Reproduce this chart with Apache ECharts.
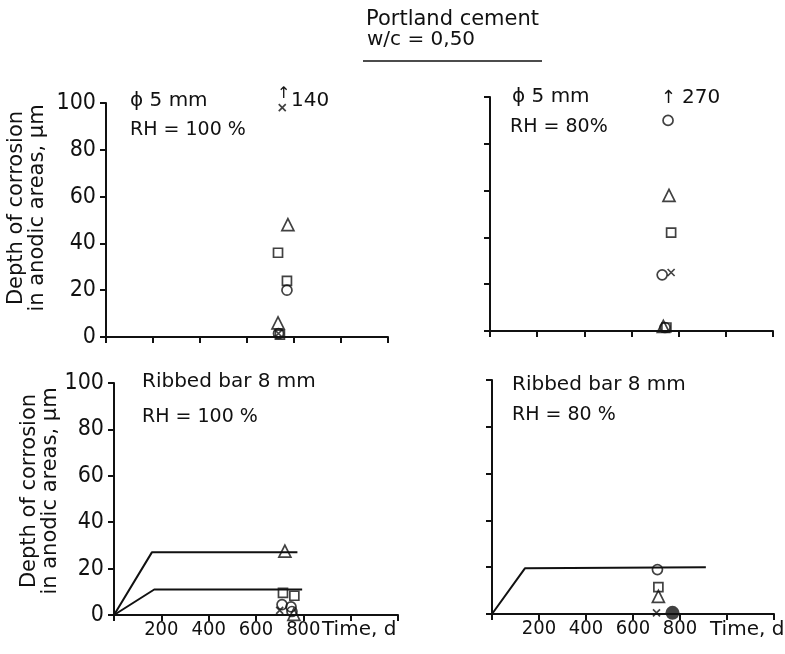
<!DOCTYPE html>
<html><head><meta charset="utf-8">
<script src="https://cdn.jsdelivr.net/npm/echarts@6/dist/echarts.min.js"></script>
<style>html,body{margin:0;padding:0;background:#fff}#c{width:785px;height:654px}</style>
</head><body><div id="c"></div>
<script>
// ---- data ----
const xTicks = [0, 200, 400, 600, 800, 1000, 1200];
const yTicks = [0, 20, 40, 60, 80, 100];
const yAxisTitle = 'Depth of corrosion\nin anodic areas, μm';
const xAxisTitle = 'Time, d';

// Top-left: φ5 mm, RH = 100 %
const tlCircles   = [[734, 1.5], [770, 20]];
const tlSquares   = [[732, 36], [770, 24], [740, 1]];
const tlTriangles = [[774, 48], [732, 6]];
const tlCrosses   = [[750, 98], [734, 1.5]];

// Top-right: φ5 mm, RH = 80 %
const trCircles   = [[755, 90], [730, 24], [742, 1.5]];
const trTriangles = [[759, 58], [735, 2]];
const trSquares   = [[768, 42], [748, 1.5]];
const trCrosses   = [[768, 25]];

// Bottom-left: ribbed bar 8 mm, RH = 100 %
const blLineUpper = [[0, 0], [160, 27], [775, 27]];
const blLineLower = [[0, 0], [170, 11], [795, 11]];
const blTriangles = [[722, 27.5], [760, 0.3]];
const blSquares   = [[714, 9.5], [762, 8.3]];
const blCircles   = [[710, 4.5], [748, 3.5], [752, 1.5]];
const blCrosses   = [[700, 2]];

// Bottom-right: ribbed bar 8 mm, RH = 80 %
const brLine      = [[0, 0], [140, 19.5], [910, 20]];
const brCircles   = [[704, 19]];
const brSquares   = [[708, 11.5]];
const brTriangles = [[708, 7.5]];
const brCrosses   = [[700, 0.5]];
const brFilled    = [[768, 0.5]];

// ---- chart ----
const INK = '#111';
const TXT = 'DejaVu Sans';
const NUM = '"Liberation Sans Narrow","DejaVu Sans Condensed","Liberation Sans",sans-serif';

const grids = [
  {left: 106, top: 103, width: 282, height: 234},
  {left: 490, top: 97,  width: 283, height: 234},
  {left: 114, top: 383, width: 284, height: 232},
  {left: 492, top: 380, width: 282, height: 234}
];

function xAxis(i, showLabels) {
  return {
    type: 'value', gridIndex: i, min: 0, max: 1200, interval: 200,
    axisLine: {lineStyle: {color: INK, width: 2}},
    axisTick: {show: true, length: 6, lineStyle: {color: INK, width: 2}},
    splitLine: {show: false},
    axisLabel: {
      show: showLabels, margin: 5, color: INK, fontSize: 20, fontFamily: NUM,
      formatter: v => (v > 0 && v < 1000) ? String(v) : ''
    }
  };
}
function yAxis(i, showLabels, gap, pad) {
  return {
    type: 'value', gridIndex: i, min: 0, max: 100, interval: 20,
    axisLine: {lineStyle: {color: INK, width: 2}},
    axisTick: {show: true, length: 6, lineStyle: {color: INK, width: 2}},
    splitLine: {show: false},
    axisLabel: {show: showLabels, margin: 10, color: INK, fontSize: 23, fontFamily: NUM},
    name: showLabels ? yAxisTitle : '',
    nameLocation: 'middle', nameRotate: 90, nameGap: gap,
    nameTextStyle: {color: INK, fontSize: 21, fontFamily: TXT, lineHeight: 21, padding: [0, 0, 0, pad]}
  };
}

const hollow = {color: 'rgba(0,0,0,0)', borderColor: INK, borderWidth: 1.7};
const crossPath = 'path://M0,0L10,10M10,0L0,10';
function sc(i, data, symbol, size) {
  return {type: 'scatter', xAxisIndex: i, yAxisIndex: i, data: data, symbol: symbol,
    symbolSize: size, itemStyle: hollow, silent: true, z: 3};
}
function cross(i, data) {
  return {type: 'scatter', xAxisIndex: i, yAxisIndex: i, data: data, symbol: crossPath,
    symbolSize: 7, itemStyle: {color: 'rgba(0,0,0,0)', borderColor: INK, borderWidth: 1.7}, silent: true, z: 3};
}
function line(i, data) {
  return {type: 'line', xAxisIndex: i, yAxisIndex: i, data: data, showSymbol: false, symbol: 'none',
    lineStyle: {color: INK, width: 2}, silent: true, z: 2};
}

const series = [
  sc(0, tlCircles, 'circle', 10), sc(0, tlSquares, 'rect', 9), sc(0, tlTriangles, 'triangle', 12), cross(0, tlCrosses),
  sc(1, trCircles, 'circle', 10), sc(1, trSquares, 'rect', 9), sc(1, trTriangles, 'triangle', 12), cross(1, trCrosses),
  line(2, blLineUpper), line(2, blLineLower),
  sc(2, blCircles, 'circle', 10), sc(2, blSquares, 'rect', 9), sc(2, blTriangles, 'triangle', 12), cross(2, blCrosses),
  line(3, brLine),
  sc(3, brCircles, 'circle', 10), sc(3, brSquares, 'rect', 9), sc(3, brTriangles, 'triangle', 12), cross(3, brCrosses),
  {type: 'scatter', xAxisIndex: 3, yAxisIndex: 3, data: brFilled, symbol: 'circle', symbolSize: 14,
    itemStyle: {color: INK}, silent: true, z: 3}
];

function txt(x, y, s, size, extra) {
  return Object.assign({type: 'text', x: x, y: y,
    style: {text: s, fill: INK, font: size + 'px "DejaVu Sans"', textVerticalAlign: 'middle'}}, extra || {});
}

const option = {
  animation: false,
  backgroundColor: '#fff',
  title: [
    {text: 'Portland cement', left: 361, top: 4,
      textStyle: {color: INK, fontSize: 21, fontWeight: 'normal', fontFamily: TXT}},
    {text: 'w/c = 0,50', left: 362, top: 25,
      textStyle: {color: INK, fontSize: 20, fontWeight: 'normal', fontFamily: TXT}}
  ],
  grid: grids,
  xAxis: [xAxis(0, false), xAxis(1, false), xAxis(2, true), xAxis(3, true)],
  yAxis: [yAxis(0, true, 58, 24), yAxis(1, false, 0, 0), yAxis(2, true, 50, 16), yAxis(3, false, 0, 0)],
  series: series,
  graphic: [
    {type: 'line', shape: {x1: 363, y1: 61, x2: 542, y2: 61}, style: {stroke: INK, lineWidth: 1.5}},
    txt(130, 101, 'ϕ 5 mm', 20),
    txt(130, 130, 'RH = 100 %', 19),
    txt(277, 94, '↑', 16),
    txt(291, 101, '140', 20),
    txt(512, 97, 'ϕ 5 mm', 20),
    txt(510, 127, 'RH = 80%', 19),
    txt(661, 98, '↑', 18),
    txt(682, 98, '270', 20),
    txt(142, 382, 'Ribbed bar 8 mm', 20),
    txt(142, 417, 'RH = 100 %', 19),
    txt(512, 385, 'Ribbed bar 8 mm', 20),
    txt(512, 415, 'RH = 80 %', 19),
    txt(322, 630, xAxisTitle, 20),
    txt(710, 630, xAxisTitle, 20)
  ]
};

const chart = echarts.init(document.getElementById('c'), null, {renderer: 'canvas'});
chart.setOption(option);
</script>
</body></html>
